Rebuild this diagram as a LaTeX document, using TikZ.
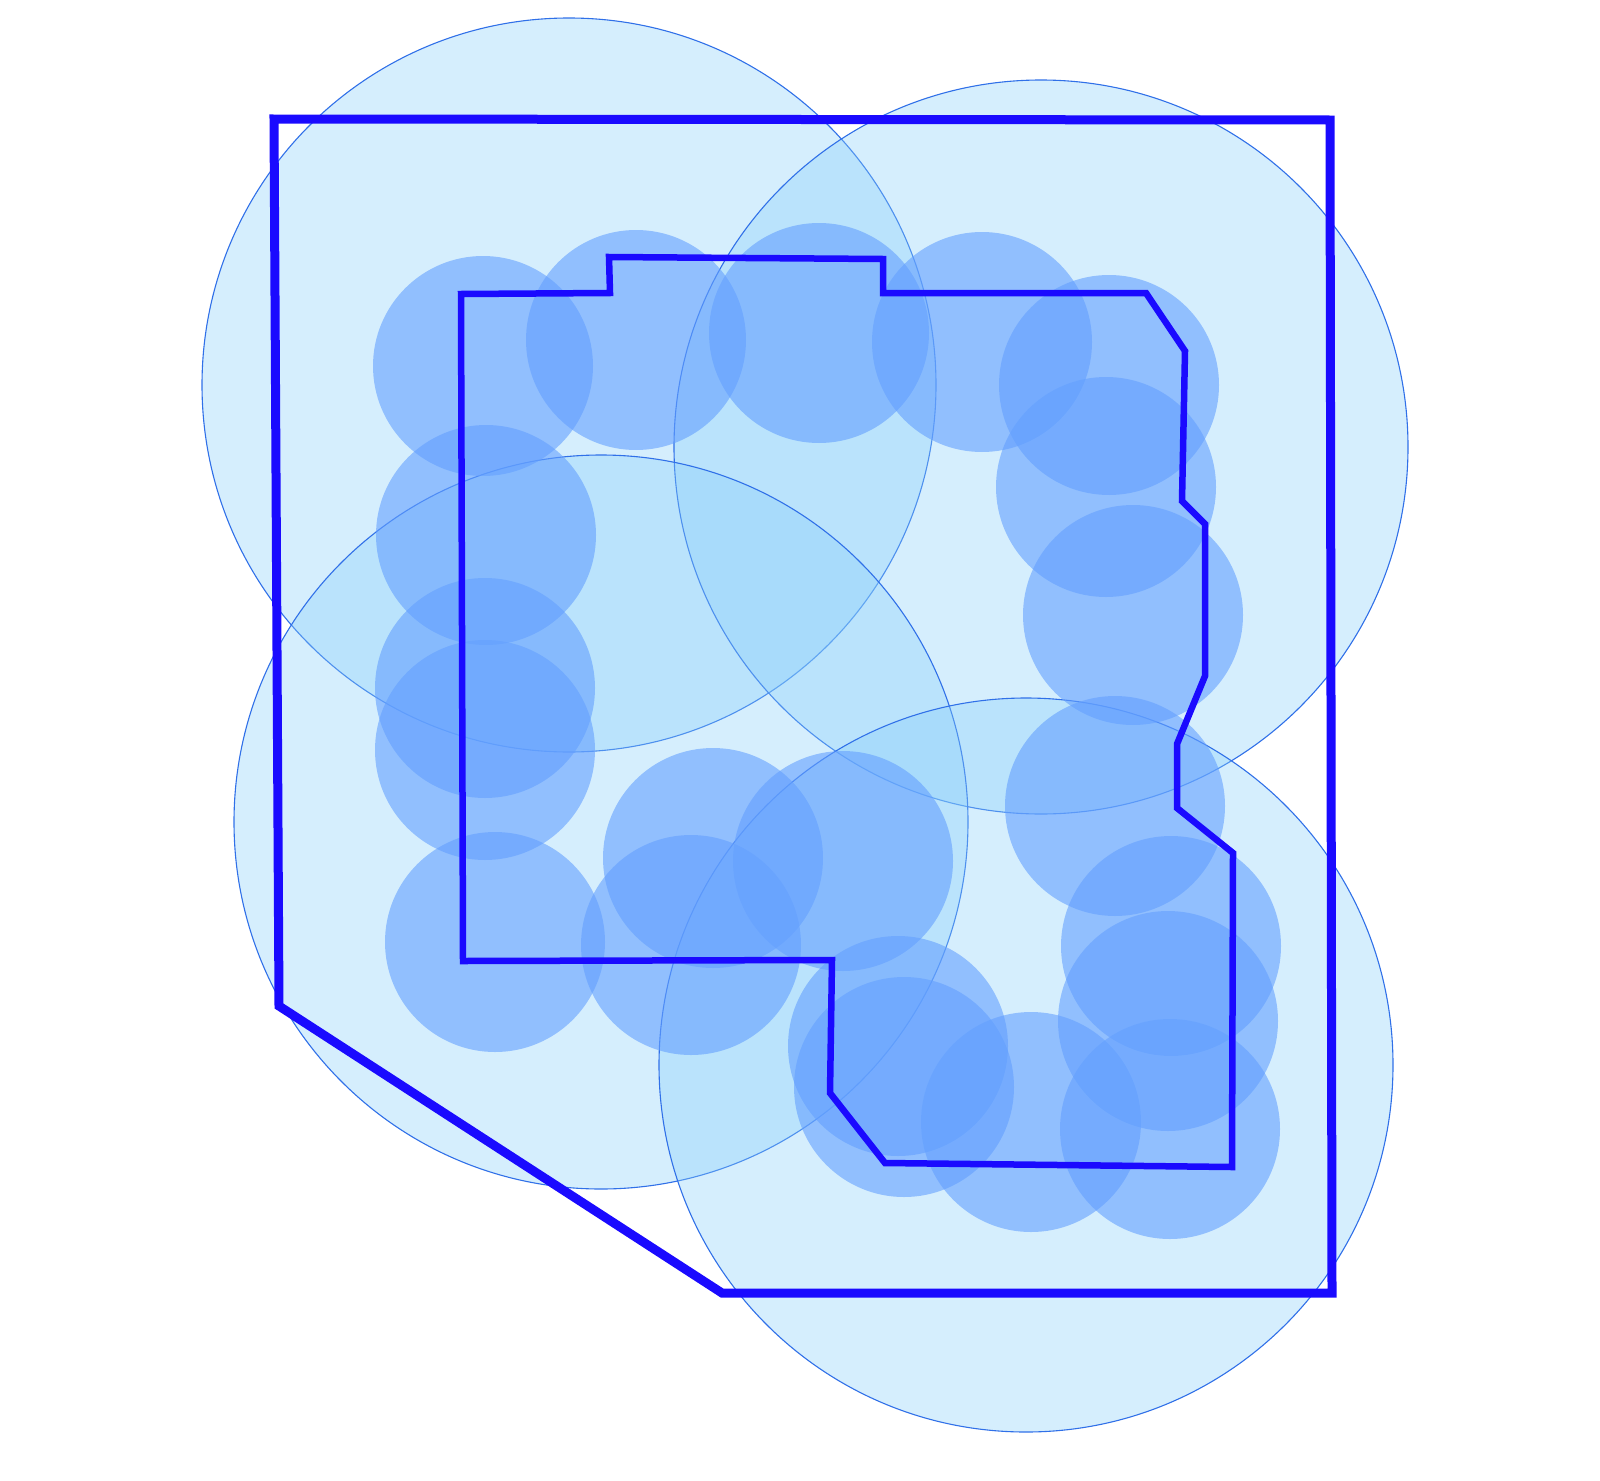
\documentclass[tikz,border=0pt]{standalone}
\usepackage{xcolor}
\usepackage{tikz}
\definecolor{rangefill}{HTML}{87CEFA}
\definecolor{rangeline}{HTML}{3070E8}
\definecolor{spotfill}{HTML}{64A0FF}
\definecolor{zoneblue}{HTML}{1A0AFF}

\begin{document}
\begin{tikzpicture}[
    x=1pt, y=-1pt,
    bigrange/.style={fill=rangefill, fill opacity=0.35, draw=rangeline, draw opacity=1, line width=1.1pt},
    spot/.style={fill=spotfill, fill opacity=0.6},
    outerzone/.style={draw=zoneblue, line width=9pt, line join=miter},
    innerzone/.style={draw=zoneblue, line width=6.5pt, line join=miter}
]
\useasboundingbox (0,0) rectangle (1600,1480);

% Large coverage circles
\foreach \cx/\cy in {569/385, 1041/447, 601/822, 1026/1065}
    \draw[bigrange] (\cx,\cy) circle[radius=367pt];

% Small spots
\foreach \cx/\cy in {483/366, 636/340, 819/333, 982/342, 1109/385, 1106/487, 1133/615,
    486/535, 485/688, 485/750, 495/942, 713/858, 691/945, 843/861, 1115/806,
    1171/946, 1168/1021, 898/1046, 904/1087, 1031/1122, 1170/1129}
    \fill[spot] (\cx,\cy) circle[radius=110pt];

% Outer boundary
\draw[outerzone] (274,119) -- (1330,120) -- (1332,1293) -- (722,1293) -- (279,1006) -- cycle;

% Inner boundary
\draw[innerzone] (461,294) -- (610,293) -- (609,257) -- (883,259) -- (883,293) -- (1146,293)
    -- (1185,351) -- (1182,501) -- (1205,524) -- (1205,676) -- (1177,744) -- (1177,808)
    -- (1233,853) -- (1232,1167) -- (885,1163) -- (830,1093) -- (832,960) -- (463,961) -- cycle;

\end{tikzpicture}
\end{document}
